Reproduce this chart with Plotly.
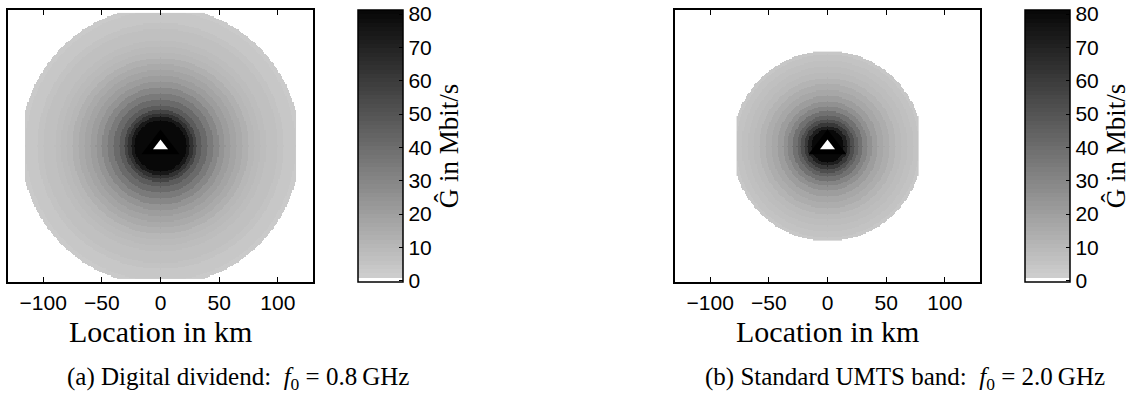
import numpy as np
import plotly.graph_objects as go

# ---------------- data ----------------
# Radial profile of the estimated throughput (outer ring radius in km -> value in Mbit/s)
RING_RADIUS_A_KM = [22, 25, 28, 31, 35, 40, 45, 50, 55, 60, 65, 70, 75, 80, 85, 90, 95, 100, 105, 110, 115, 119]
THROUGHPUT_A = [82, 74, 64, 56, 48, 41, 35, 29, 25, 21, 18, 15, 13, 11, 9.5, 8, 7, 6, 5, 4, 3.5, 3]

RING_RADIUS_B_KM = [14, 17, 20, 23, 26, 30, 34, 38, 43, 48, 53, 58, 63, 68, 73, 78, 81]
THROUGHPUT_B = [82, 72, 61, 52, 45, 38, 31, 26, 21, 17, 14, 11.5, 9.5, 8, 6.5, 5, 4]

# simulated area extent (km)
AREA_A = {"x": 115, "y": 113}
AREA_B = {"x": 77, "y": 80}

X_TICKS = [-100, -50, 0, 50, 100]
X_TICK_LABELS = ["\u2212100", "\u221250", "0", "50", "100"]
CB_TICKS = [0, 10, 20, 30, 40, 50, 60, 70, 80]
CB_RANGE = [-0.4, 81.2]

BASE_STATION = {"x": [0], "y": [0]}

CAPTION_A = "(a) Digital dividend:  <i>f</i><sub>0</sub> = 0.8\u2009GHz"
CAPTION_B = "(b) Standard UMTS band:  <i>f</i><sub>0</sub> = 2.0\u2009GHz"
X_TITLE = "Location in km"
CB_TITLE = "\u011c in Mbit/s"


def ring_field(radii, values, area):
    xs = np.arange(-area["x"], area["x"] + 1, 1.0)
    ys = np.arange(-area["y"], area["y"] + 1, 1.0)
    X, Y = np.meshgrid(xs, ys)
    R = np.hypot(X, Y)
    idx = np.searchsorted(np.asarray(radii, float), R, side="left")
    vals = np.append(np.asarray(values, float), np.nan)
    Z = vals[np.minimum(idx, len(values))]
    return xs, ys, Z


# stepped grey colormap (64 levels, lowest level white)
N = 64
cs = []
for k in range(N):
    if k == 0:
        g = 255
    else:
        g = int(round(205 - (k - 1) * (205 - 8) / (N - 2)))
    c = f"rgb({g},{g},{g})"
    cs.append([k / N, c])
    cs.append([(k + 1) / N, c])

W, H = 1142, 396
T, B = 10, 114
PH = H - T - B

tick_font = dict(family="Liberation Sans, Arial, sans-serif", size=21, color="black")
serif = "Liberation Serif, Times New Roman, serif"

fig = go.Figure()

panels = [
    (RING_RADIUS_A_KM, THROUGHPUT_A, AREA_A, "x", "y", 358),
    (RING_RADIUS_B_KM, THROUGHPUT_B, AREA_B, "x2", "y2", 1025),
]
for radii, vals, area, xa, ya, cbx in panels:
    xs, ys, Z = ring_field(radii, vals, area)
    fig.add_trace(go.Heatmap(
        x=xs, y=ys, z=Z, xaxis=xa, yaxis=ya,
        colorscale=cs, zmin=CB_RANGE[0], zmax=CB_RANGE[1], hoverongaps=False,
        colorbar=dict(
            x=cbx / W, xanchor="left", xpad=0, y=0.5, yanchor="middle", ypad=0,
            len=1, lenmode="fraction", thickness=45, thicknessmode="pixels",
            outlinecolor="black", outlinewidth=1.5,
            tickvals=CB_TICKS, ticks="inside", ticklen=4, tickcolor="black",
            tickfont=tick_font, ticklabeloverflow="allow",
            title=dict(text=CB_TITLE, side="right", font=dict(family=serif, size=27, color="black")),
        ),
    ))
    fig.add_trace(go.Scatter(
        x=BASE_STATION["x"], y=BASE_STATION["y"], xaxis=xa, yaxis=ya, mode="markers",
        marker=dict(symbol="triangle-up", size=33, color="black", line=dict(width=0)),
        showlegend=False, hoverinfo="skip"))
    fig.add_trace(go.Scatter(
        x=BASE_STATION["x"], y=BASE_STATION["y"], xaxis=xa, yaxis=ya, mode="markers",
        marker=dict(symbol="triangle-up", size=13, color="white", line=dict(width=0)),
        showlegend=False, hoverinfo="skip"))

xcommon = dict(range=[-130, 130], tickvals=X_TICKS, ticktext=X_TICK_LABELS,
               ticks="inside", ticklen=5, tickcolor="black", tickwidth=1,
               showline=True, linecolor="black", linewidth=1.5, mirror="ticks",
               showgrid=False, zeroline=False, tickfont=tick_font, ticklabelstandoff=1)
ycommon = dict(range=[-116, 116], showticklabels=False, ticks="",
               showline=True, linecolor="black", linewidth=1.5, mirror=True,
               showgrid=False, zeroline=False)

fig.update_layout(
    width=W, height=H,
    margin=dict(l=0, r=0, t=T, b=B),
    paper_bgcolor="white", plot_bgcolor="white",
    showlegend=False,
    xaxis=dict(domain=[8 / W, 313 / W], anchor="y", **xcommon),
    yaxis=dict(domain=[0, 1], anchor="x", **ycommon),
    xaxis2=dict(domain=[675 / W, 980 / W], anchor="y2", **xcommon),
    yaxis2=dict(domain=[0, 1], anchor="x2", **ycommon),
)


def py(p):
    return (H - B - p) / PH


anns = [
    (160, 331, X_TITLE, 30),
    (827, 331, X_TITLE, 30),
    (238, 378, CAPTION_A, 25),
    (905, 378, CAPTION_B, 25),
]
for x, y, t, s in anns:
    fig.add_annotation(x=x / W, y=py(y), xref="paper", yref="paper", text=t, showarrow=False,
                       xanchor="center", yanchor="middle",
                       font=dict(family=serif, size=s, color="black"))

fig.write_html(
    "out.html",
    config={"displayModeBar": False},
    post_script="document.body.style.margin='0';document.body.style.overflow='hidden';",
)
